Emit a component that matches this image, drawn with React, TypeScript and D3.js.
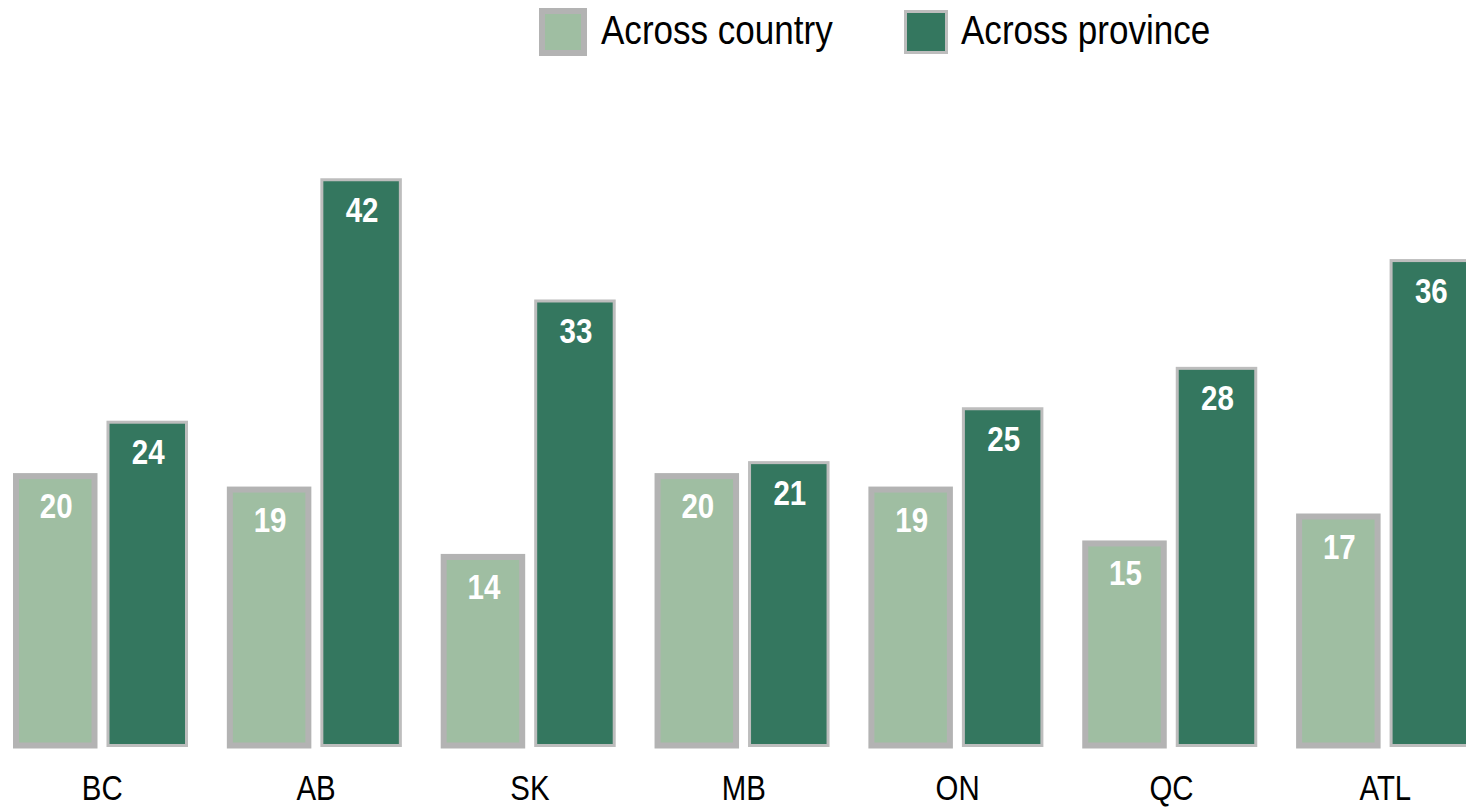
import React from "react";
import * as d3 from "d3";

const categories = ["BC", "AB", "SK", "MB", "ON", "QC", "ATL"];
const acrossCountry = [20, 19, 14, 20, 19, 15, 17];
const acrossProvince = [24, 42, 33, 21, 25, 28, 36];
const seriesNames = ["Across country", "Across province"];

const W = 1466;
const H = 808;
const baseline = 745.5;
const FONT = "'Liberation Sans', Arial, Helvetica, sans-serif";

const styles = [
  { fill: "#9fbea2", stroke: "#b3b3b3", sw: 6 },
  { fill: "#34775f", stroke: "#bdbdbd", sw: 3 },
];

function NText({ x, y, size, weight, fill, anchor, sx = 0.82, children }: any) {
  return (
    <g transform={`translate(${x},${y}) scale(${sx},1)`}>
      <text
        x={0}
        y={0}
        fontFamily={FONT}
        fontSize={size}
        fontWeight={weight}
        fill={fill}
        textAnchor={anchor}
      >
        {children}
      </text>
    </g>
  );
}

export default function App() {
  React.useEffect(() => {
    document.body.style.margin = "0";
  }, []);

  const x = d3.scalePoint<string>().domain(categories).range([101.25, 1384.35]);
  const inner = d3
    .scaleBand<number>()
    .domain([0, 1])
    .range([-85.25, 85.25])
    .paddingInner(0.1467)
    .paddingOuter(0);
  const y = d3.scaleLinear().domain([0, 42]).range([baseline, baseline - 42 * 13.47]);
  const bw = inner.bandwidth();
  const series = [acrossCountry, acrossProvince];

  return (
    <svg width={W} height={H} style={{ display: "block" }}>
      <rect width={W} height={H} fill="#ffffff" />
      {categories.map((c, i) => (
        <g key={c}>
          {series.map((vals, s) => {
            const v = vals[i];
            const bx = (x(c) as number) + (inner(s) as number);
            const st = styles[s];
            return (
              <g key={s}>
                <rect
                  x={bx}
                  y={y(v)}
                  width={bw}
                  height={baseline - y(v)}
                  fill={st.fill}
                  stroke={st.stroke}
                  strokeWidth={st.sw}
                />
                <NText x={bx + bw / 2 + 1} y={y(v) + 42} size={36} weight="bold" fill="#ffffff" anchor="middle">
                  {v}
                </NText>
              </g>
            );
          })}
          <NText x={(x(c) as number) + 1} y={800} size={35} weight="normal" fill="#000000" anchor="middle" sx={0.84}>
            {c}
          </NText>
        </g>
      ))}
      {seriesNames.map((name, s) => {
        const lx = s === 0 ? 542 : 905.5;
        const st = styles[s];
        return (
          <g key={name}>
            <rect x={lx} y={s === 0 ? 11 : 11.5} width={s === 0 ? 42 : 41} height={s === 0 ? 42 : 41} fill={st.fill} stroke={st.stroke} strokeWidth={st.sw} />
            <NText x={s === 0 ? 601 : 961} y={44} size={41} weight="normal" fill="#000000" anchor="start" sx={0.855}>
              {name}
            </NText>
          </g>
        );
      })}
    </svg>
  );
}
